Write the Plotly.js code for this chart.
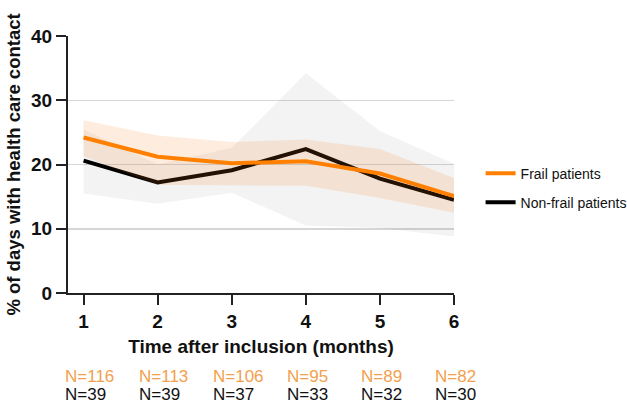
<!DOCTYPE html>
<html>
<head>
<meta charset="utf-8">
<script src="https://cdn.plot.ly/plotly-3.0.1.min.js"></script>
<style>html,body{margin:0;padding:0;background:#fff;}#chart{width:627px;height:404px;}</style>
</head>
<body>
<div id="chart"></div>
<script>
// ---- data ----
const months = [1, 2, 3, 4, 5, 6];
const frailMean  = [24.2, 21.2, 20.2, 20.5, 18.6, 15.1];
const frailUpper = [26.9, 24.5, 23.5, 23.9, 22.4, 17.9];
const frailLower = [21.3, 16.8, 16.7, 16.7, 14.8, 12.5];
const nonFrailMean  = [20.6, 17.2, 19.1, 22.4, 17.8, 14.5];
const nonFrailUpper = [25.5, 20.0, 22.6, 34.2, 25.2, 20.1];
const nonFrailLower = [15.5, 13.9, 15.6, 10.5, 10.1, 8.8];
const frailN    = ["N=116", "N=113", "N=106", "N=95", "N=89", "N=82"];
const nonFrailN = ["N=39", "N=39", "N=37", "N=33", "N=32", "N=30"];
const seriesNames = ["Frail patients", "Non-frail patients"];
const yTitle = "% of days with health care contact";
const xTitle = "Time after inclusion (months)";

function band(upper, lower) {
  return {
    x: months.concat(months.slice().reverse()),
    y: upper.concat(lower.slice().reverse())
  };
}

const gb = band(nonFrailUpper, nonFrailLower);
const ob = band(frailUpper, frailLower);
const ORANGE = '#ff8000';
const FONT = 'Liberation Sans, Arial, sans-serif';

const traces = [
  {x: gb.x, y: gb.y, type: 'scatter', mode: 'lines', fill: 'toself',
   fillcolor: 'rgba(120,120,120,0.085)', line: {width: 0, color: 'rgba(0,0,0,0)'},
   showlegend: false, hoverinfo: 'skip'},
  {x: months, y: nonFrailMean, type: 'scatter', mode: 'lines', name: seriesNames[1],
   line: {color: '#000000', width: 4}, legendrank: 2, legendgroup: 'b'},
  {x: ob.x, y: ob.y, type: 'scatter', mode: 'lines', fill: 'toself',
   fillcolor: 'rgba(250,130,20,0.14)', line: {width: 0, color: 'rgba(0,0,0,0)'},
   showlegend: false, hoverinfo: 'skip'},
  {x: months, y: frailMean, type: 'scatter', mode: 'lines', name: seriesNames[0],
   line: {color: ORANGE, width: 4}, legendrank: 1, legendgroup: 'a'}
];

const annotations = [];
months.forEach((m, i) => {
  annotations.push({x: m, xref: 'x', y: 376, yref: 'paper', text: frailN[i],
    showarrow: false, xanchor: 'left', yanchor: 'middle', xshift: -21,
    font: {family: FONT, size: 17, color: '#f3a04e'}});
  annotations.push({x: m, xref: 'x', y: 394.5, yref: 'paper', text: nonFrailN[i],
    showarrow: false, xanchor: 'left', yanchor: 'middle', xshift: -21,
    font: {family: FONT, size: 17, color: '#111111'}});
});
// convert pixel rows to paper y
const H = 404, mt = 36, mb = 111, ph = H - mt - mb;
annotations.forEach(a => { a.y = (H - mb - a.y) / ph; });

const layout = {
  width: 627, height: 404,
  margin: {l: 68, r: 173, t: 36, b: 111},
  paper_bgcolor: '#ffffff', plot_bgcolor: '#ffffff',
  font: {family: FONT, color: '#111111'},
  showlegend: true,
  legend: {xref: 'container', yref: 'container', x: 0.7665, y: 0.61, xanchor: 'left', yanchor: 'top',
    font: {size: 14, color: '#111111'}, itemwidth: 30, tracegroupgap: 8, traceorder: 'grouped',
    bgcolor: 'rgba(0,0,0,0)'},
  xaxis: {
    range: [0.79, 6], tickvals: months, ticktext: months.map(String),
    showgrid: false, zeroline: false, showline: true, linecolor: '#222', linewidth: 2,
    ticks: 'outside', ticklen: 10, tickwidth: 2, tickcolor: '#222',
    tickfont: {size: 19, color: '#111', family: FONT, weight: 'bold'},
    title: {text: xTitle, standoff: 9,
      font: {size: 19, color: '#111', family: FONT, weight: 'bold'}},
    automargin: false, fixedrange: true
  },
  yaxis: {
    range: [0, 40], tickvals: [0, 10, 20, 30, 40],
    showgrid: true, gridcolor: '#d6d6d6', gridwidth: 1.5,
    zeroline: false, showline: true, linecolor: '#222', linewidth: 2,
    ticks: 'outside', ticklen: 10, tickwidth: 2, tickcolor: '#222',
    tickfont: {size: 19, color: '#111', family: FONT, weight: 'bold'},
    title: {text: yTitle, standoff: 6,
      font: {size: 18.5, color: '#111', family: FONT, weight: 'bold'}},
    automargin: false, fixedrange: true
  },
  annotations: annotations
};

Plotly.newPlot('chart', traces, layout, {displayModeBar: false, staticPlot: true});
</script>
</body>
</html>
